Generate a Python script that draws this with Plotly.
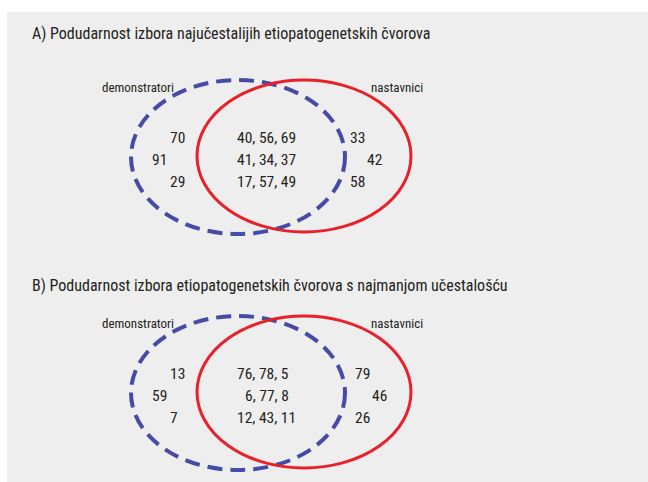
import plotly.graph_objects as go

# ── data ─────────────────────────────────────────────────────────────────────
panel_titles = [
    "A) Podudarnost izbora najučestalijih etiopatogenetskih čvorova",
    "B) Podudarnost izbora etiopatogenetskih čvorova s najmanjom učestalošću",
]
group_labels = ["demonstratori", "nastavnici"]

a_demonstratori = ["70", "91", "29"]
a_both = ["40, 56, 69", "41, 34, 37", "17, 57, 49"]
a_nastavnici = ["33", "42", "58"]

b_demonstratori = ["13", "59", "7"]
b_both = ["76, 78, 5", "6, 77, 8", "12, 43, 11"]
b_nastavnici = ["79", "46", "26"]

# ── layout constants (pixel space) ───────────────────────────────────────────
W, H = 648, 482
BLUE = "#464ca6"
RED = "#e8202a"
BG = "#eeeeee"
INK = "#231f20"
FONT = "Roboto Condensed, Roboto"

panels = [
    dict(title_y=33, dy=0, dem=a_demonstratori, both=a_both, nast=a_nastavnici,
         both_x=[237, 237, 237], nast_x=[350, 367, 350]),
    dict(title_y=285, dy=236, dem=b_demonstratori, both=b_both, nast=b_nastavnici,
         both_x=[237, 245, 237], nast_x=[355, 372, 355]),
]
row_y = [139, 161, 183]
dem_x = [170, 152, 170]

fig = go.Figure()
shapes = [dict(type="rect", xref="x", yref="y", x0=7, y0=12, x1=W, y1=H,
               fillcolor=BG, line_width=0, layer="below")]
annotations = []

for i, p in enumerate(panels):
    dy = p["dy"]
    ys = [y + dy for y in row_y]
    for texts, xs in [(p["dem"], dem_x), (p["both"], p["both_x"]), (p["nast"], p["nast_x"])]:
        fig.add_trace(go.Scatter(
            x=xs, y=ys, text=texts, mode="text", textposition="middle right",
            textfont=dict(family=FONT, size=15.5, color=INK),
            hoverinfo="skip", showlegend=False,
        ))
    # blue dashed ellipse (demonstratori), red solid ellipse (nastavnici)
    shapes.append(dict(type="circle", xref="x", yref="y",
                       x0=131, x1=345, y0=80 + dy, y1=234 + dy,
                       line=dict(color=BLUE, width=4, dash="15px,8px")))
    shapes.append(dict(type="circle", xref="x", yref="y",
                       x0=197, x1=411, y0=80 + dy, y1=232 + dy,
                       line=dict(color=RED, width=3)))
    annotations.append(dict(x=30, y=p["title_y"], xref="x", yref="y",
                            text=panel_titles[i], showarrow=False,
                            xanchor="left", yanchor="middle",
                            font=dict(family=FONT, size=16, color=INK)))
    annotations.append(dict(x=100, y=87 + dy, xref="x", yref="y", text=group_labels[0],
                            showarrow=False, xanchor="left", yanchor="middle",
                            font=dict(family=FONT, size=13, color=INK)))
    annotations.append(dict(x=425, y=87 + dy, xref="x", yref="y", text=group_labels[1],
                            showarrow=False, xanchor="right", yanchor="middle",
                            font=dict(family=FONT, size=13, color=INK)))

fig.update_layout(
    width=W, height=H,
    margin=dict(l=0, r=0, t=0, b=0),
    paper_bgcolor="white", plot_bgcolor="rgba(0,0,0,0)",
    xaxis=dict(range=[0, W], visible=False, fixedrange=True),
    yaxis=dict(range=[H, 0], visible=False, fixedrange=True),
    shapes=shapes, annotations=annotations,
)

# drop the browser's default body margin so the figure sits at 0,0
fig.write_html("out.html", post_script="document.body.style.margin='0';",
               config={"displayModeBar": False})
